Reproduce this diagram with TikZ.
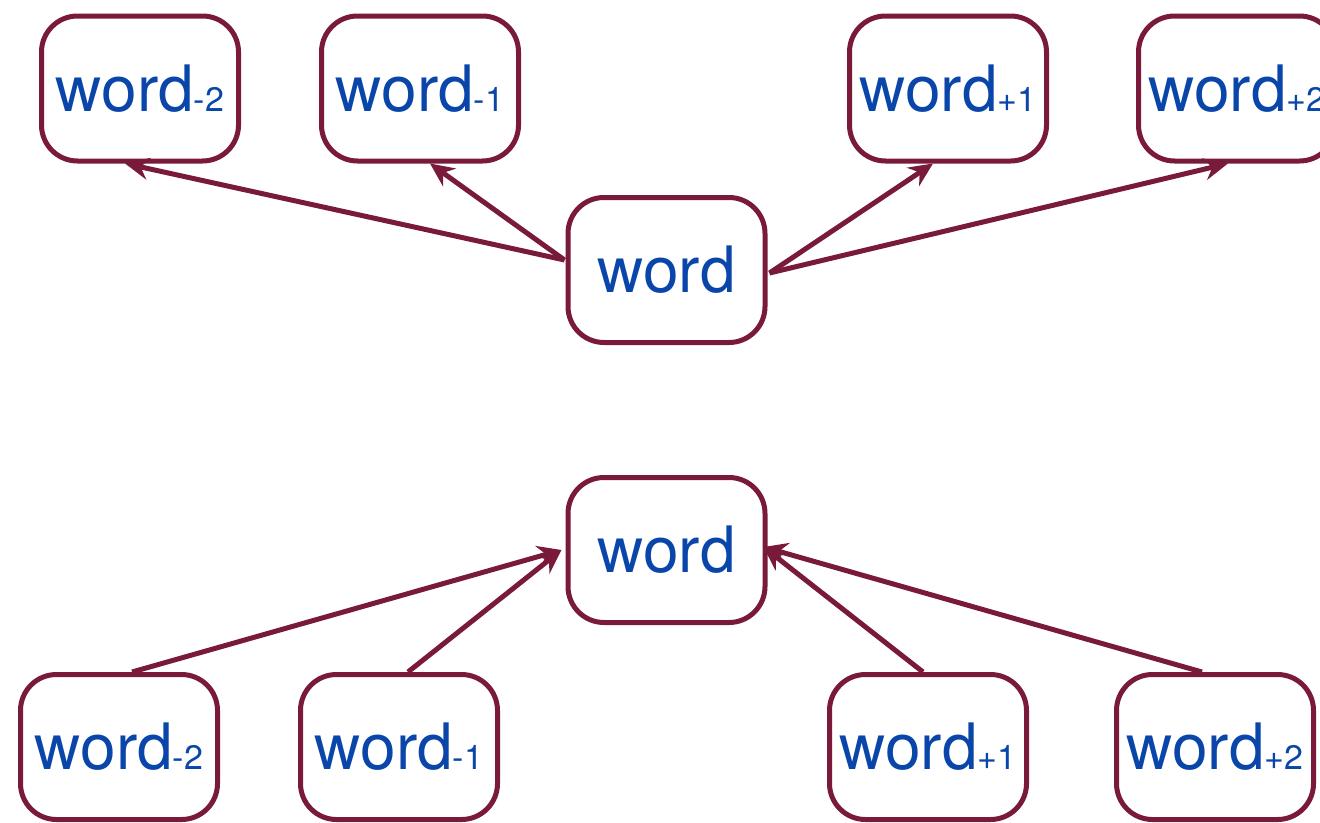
\documentclass[tikz,border=0pt]{standalone}
\usepackage{fontspec}
\setmainfont{TeX Gyre Heros}
\usetikzlibrary{arrows.meta,calc}
\definecolor{edgecol}{RGB}{122,26,58}
\definecolor{txtcol}{RGB}{10,70,170}
\newcommand\wsub[1]{{\fontsize{34}{34}\selectfont #1}}
\begin{document}
\begin{tikzpicture}[x=1pt,y=-1pt,
  wbox/.style={draw=edgecol, line width=5pt, rounded corners=36pt,
    minimum width=197pt, minimum height=145pt, inner sep=0pt,
    text=txtcol, font=\fontsize{64}{64}\selectfont},
  conn/.style={draw=edgecol, line width=5pt,
    -{Stealth[length=24pt,width=22pt,inset=8pt]}}]
\useasboundingbox (0,0) rectangle (1320,822);

% top diagram
\node[wbox] (t1) at (140,88.5) {word\wsub{-2}};
\node[wbox] (t2) at (420,88.5) {word\wsub{-1}};
\node[wbox] (t3) at (948,88.5) {word\wsub{+1}};
\node[wbox] (t4) at (1237,88.5) {word\wsub{+2}};
\node[wbox] (ct) at (666.5,270) {word};

\draw[conn] ($(ct.west)+(-1,-10)$) -- ($(t1.south)+(-15,0)$);
\draw[conn] ($(ct.west)+(-1,-10)$) -- ($(t2.south)+(10,0)$);
\draw[conn] ($(ct.east)+(2,3)$) -- ($(t3.south)+(-15,0)$);
\draw[conn] ($(ct.east)+(2,3)$) -- ($(t4.south)+(-9,0)$);

% bottom diagram
\node[wbox] (cb) at (666.5,550) {word};
\node[wbox] (b1) at (119,747) {word\wsub{-2}};
\node[wbox] (b2) at (399,747) {word\wsub{-1}};
\node[wbox] (b3) at (928,747) {word\wsub{+1}};
\node[wbox] (b4) at (1215,747) {word\wsub{+2}};

\draw[conn] ($(b1.north)+(13,0)$) -- ($(cb.west)+(-4,0)$);
\draw[conn] ($(b2.north)+(9,0)$) -- ($(cb.west)+(-4,0)$);
\draw[conn] ($(b3.north)+(-5,0)$) -- ($(cb.east)+(-4,-3)$);
\draw[conn] ($(b4.north)+(-13,0)$) -- ($(cb.east)+(-4,-3)$);
\end{tikzpicture}
\end{document}
